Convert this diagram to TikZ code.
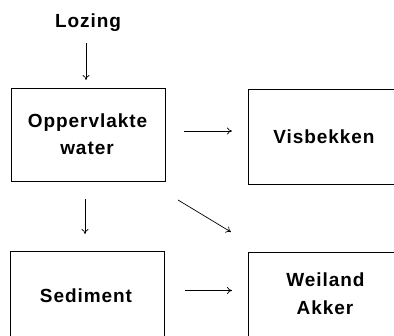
\documentclass[tikz,border=0pt]{standalone}
\usepackage{fontspec}
\setmainfont{Liberation Sans}[LetterSpace=5]
\usetikzlibrary{arrows.meta}
\begin{document}
\begin{tikzpicture}[x=1pt,y=-1pt,
  lbl/.style={font=\fontsize{19}{25}\selectfont\bfseries, inner sep=0pt, anchor=base},
  boxnode/.style={draw, line width=0.9pt, inner sep=0pt},
  arr/.style={-{To[length=5pt,width=7pt]}, line width=0.7pt}]
\useasboundingbox (0,0) rectangle (394,336);
\clip (0,0) rectangle (394,336);
\fill[white] (0,0) rectangle (394,336);
% boxes
\node[boxnode, minimum width=154pt, minimum height=93pt] (opp) at (88,134.5) {};
\node[boxnode, minimum width=154pt, minimum height=95pt] (vis) at (325,136.5) {};
\node[boxnode, minimum width=154pt, minimum height=94pt] (sed) at (87,298) {};
\node[boxnode, minimum width=154pt, minimum height=94pt] (wei) at (325,299) {};
% texts
\node[lbl] (loz) at (88,27.5) {Lozing};
\node[lbl] (oppt1) at (87.5,128) {Oppervlakte};
\node[lbl] (oppt2) at (87,155) {water};
\node[lbl] (vist) at (324,144) {Visbekken};
\node[lbl] (sedt) at (86,303) {Sediment};
\node[lbl] (weit1) at (325.5,287) {Weiland};
\node[lbl] (weit2) at (325,315) {Akker};
% arrow end points
\coordinate (a1s) at (86,43);
\coordinate (a1e) at (86,80);
\coordinate (a2s) at (184,131);
\coordinate (a2e) at (232,131);
\coordinate (a3s) at (178,200);
\coordinate (a3e) at (231,232);
\coordinate (a4s) at (85,199);
\coordinate (a4e) at (85,234);
\coordinate (a5s) at (185,290.5);
\coordinate (a5e) at (232,290.5);
\draw[arr] (a1s) -- (a1e);
\draw[arr] (a2s) -- (a2e);
\draw[arr] (a3s) -- (a3e);
\draw[arr] (a4s) -- (a4e);
\draw[arr] (a5s) -- (a5e);
\end{tikzpicture}
\end{document}
